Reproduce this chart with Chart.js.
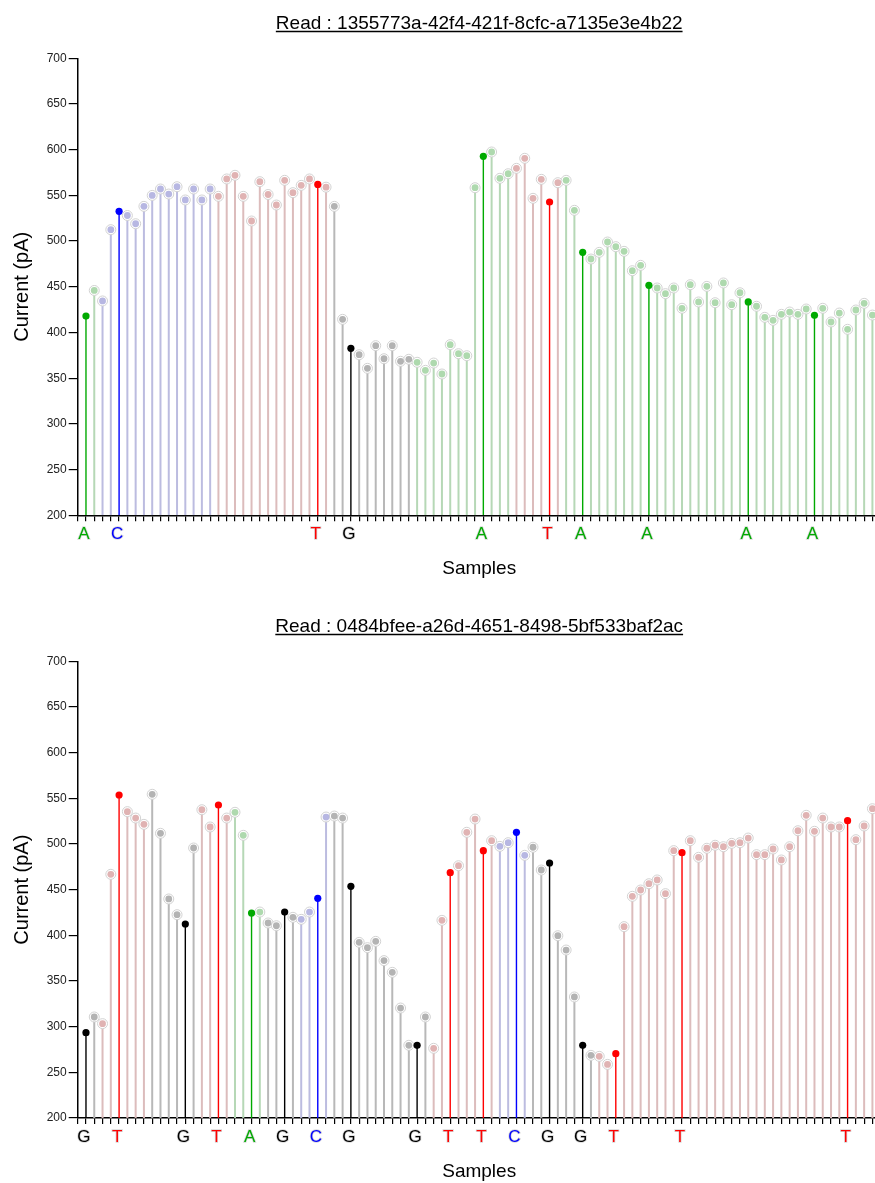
<!DOCTYPE html>
<html><head><meta charset="utf-8">
<script src="https://cdn.jsdelivr.net/npm/chart.js@4.4.1/dist/chart.umd.min.js"></script>
<style>
html,body{margin:0;padding:0;background:#fff;overflow:hidden;width:875px;height:1183px;}
canvas{display:block;}
</style></head><body>
<canvas id="c1" width="890" height="603"></canvas>
<canvas id="c2" width="890" height="580"></canvas>
<script>
// ---------- DATA ----------
const read1Title = "Read : 1355773a-42f4-421f-8cfc-a7135e3e4b22";
const read1Values = [
  418, 446, 434.5, 512.5, 532.6, 528, 519, 538, 550, 557,
  551.5, 559.5, 545, 557, 545, 557, 549, 568, 572, 549,
  522, 565, 551, 539.5, 566.5, 553, 561, 568, 562, 559,
  538, 414.4, 382.7, 375.7, 360.8, 385.6, 371.3, 385.6, 368.5, 370.7,
  367.4, 358.6, 366.6, 354.6, 386.7, 376.8, 374.6, 558.4, 592.8, 597.5,
  568.7, 573.7, 579.6, 590.6, 546.8, 567.6, 542.8, 563.9, 566.5, 533.7,
  487.7, 480.4, 487.7, 499, 493.9, 488.8, 467.6, 473.5, 451.6, 448.7,
  442.5, 448.7, 426.5, 452.3, 433.4, 450.5, 432.6, 454.2, 430.4, 443.5,
  433.4, 428.7, 416.6, 413.3, 419.9, 422.4, 419.9, 425.7, 418.8, 426.5,
  411.5, 421.3, 403.5, 424.6, 431.9, 419.1
];
const read1Bases = [
  "AACCCCCCCC", "CCCCCCTTTT", "TTTTTTTTTT", "GGGGGGGGGG", "AAAAAAAAAA",
  "AATTTTTTAA", "AAAAAAAAAA", "AAAAAAAAAA", "AAAAAAAAAA", "AAAAAA"
].join("").split("");
const read1Called = [1, 5, 29, 33, 49, 57, 61, 69, 81, 89];

const read2Title = "Read : 0484bfee-a26d-4651-8498-5bf533baf2ac";
const read2Values = [
  293.4, 310.6, 303.3, 466.8, 553.6, 535.4, 528.4, 521.5, 554.4, 511.7,
  439.8, 422.6, 412.4, 495.6, 537.5, 518.6, 542.7, 528.4, 534.7, 509.5,
  424.4, 425.5, 413.5, 410.5, 425.5, 419.7, 417.5, 425.5, 440.5, 529.5,
  530.6, 528.4, 453.6, 392.3, 386.5, 393.4, 372.3, 359.5, 320.4, 279.6,
  279.6, 310.6, 276.3, 416.4, 468.6, 476.2, 512.8, 527.3, 492.7, 503.6,
  497.4, 501.4, 512.8, 487.6, 496.4, 471.5, 479.2, 399.6, 383.9, 332.5,
  279.6, 268.6, 267.5, 258.7, 270.4, 409.5, 442.7, 449.6, 456.5, 460.6,
  445.6, 492.7, 490.5, 503.6, 485.4, 495.3, 498.6, 497, 500.7, 501.4,
  506.5, 488.3, 488.3, 494.5, 482.5, 497, 514.5, 531.4, 513.9, 528.4,
  518.6, 518.6, 525.5, 504.7, 519.7, 538.6
];
const read2Bases = [
  "GGTTTTTTGG", "GGGGTTTTAA", "AAGGGGCCCC", "GGGGGGGGGG", "GGTTTTTTTT",
  "CCCCGGGGGG", "GGTTTTTTTT", "TTTTTTTTTT", "TTTTTTTTTT", "TTTTTT"
].join("").split("");
const read2Called = [1, 5, 13, 17, 21, 25, 29, 33, 41, 45, 49, 53, 57, 61, 65, 73, 93];

const yTicks = [200, 250, 300, 350, 400, 450, 500, 550, 600, 650, 700];
const xAxisTitle = "Samples";
const yAxisTitle = "Current (pA)";

// ---------- STYLE ----------
const strongColor = {A: "#00aa00", C: "#0000ff", G: "#000000", T: "#ff0000"};
const fadedDot = {A: "#aed9ae", C: "#b7b7e2", G: "#b3b3b3", T: "#e0b3b3"};
const fadedStem = {A: "#b6d8b6", C: "#bcbce0", G: "#b8b8b8", T: "#dcbcbc"};
const FONT = "'Liberation Sans', Arial, Helvetica, sans-serif";

function makeChart(id, title, values, bases, called, canvasH, bottomPad) {
  const faded = [], strong = [];
  values.forEach((v, i) => {
    const pos = i + 1;
    const rec = {x: pos, y: v, b: bases[i]};
    if (called.includes(pos)) strong.push(rec); else faded.push(rec);
  });
  const stemData = arr => arr.map(r => ({x: r.x, y: [yTicks[0], r.y], b: r.b}));
  const labelAt = {};
  called.forEach(p => { labelAt[p] = bases[p - 1]; });

  const titlePlugin = {
    id: 'titles' + id,
    afterDraw(chart) {
      const ctx = chart.ctx, a = chart.chartArea;
      const cx = (a.left + a.right) / 2;
      ctx.save();
      ctx.fillStyle = '#000';
      ctx.font = "19px " + FONT;
      ctx.textAlign = 'center';
      ctx.textBaseline = 'alphabetic';
      ctx.fillText(title, cx, 28.5);
      const w = ctx.measureText(title).width;
      ctx.strokeStyle = '#000';
      ctx.lineWidth = 1.3;
      ctx.beginPath();
      ctx.moveTo(cx - w / 2, 31.5);
      ctx.lineTo(cx + w / 2, 31.5);
      ctx.stroke();
      ctx.font = "19px " + FONT;
      ctx.fillText(xAxisTitle, cx, 573.5);
      ctx.translate(28, (a.top + a.bottom) / 2);
      ctx.rotate(-Math.PI / 2);
      ctx.font = "20px " + FONT;
      ctx.fillText(yAxisTitle, 0, 0);
      ctx.restore();
    }
  };

  return new Chart(document.getElementById(id), {
    type: 'scatter',
    data: {
      datasets: [
        {
          type: 'bar', data: stemData(faded), order: 5, grouped: false,
          backgroundColor: c => fadedStem[c.raw ? c.raw.b : 'G'],
          maxBarThickness: 2, borderWidth: 0
        },
        {
          type: 'bar', data: stemData(strong), order: 4, grouped: false,
          backgroundColor: c => strongColor[c.raw ? c.raw.b : 'G'],
          maxBarThickness: 1.4, borderWidth: 0
        },
        {
          type: 'scatter', data: faded, order: 3,
          pointRadius: 5, pointBackgroundColor: '#ffffff',
          pointBorderColor: '#d2d2d2', pointBorderWidth: 1, pointHoverRadius: 5
        },
        {
          type: 'scatter', data: faded, order: 2,
          pointRadius: 3.4, pointBorderWidth: 0,
          pointBackgroundColor: c => fadedDot[c.raw ? c.raw.b : 'G']
        },
        {
          type: 'scatter', data: strong, order: 1,
          pointRadius: 3.6, pointBorderWidth: 0,
          pointBackgroundColor: c => strongColor[c.raw ? c.raw.b : 'G']
        }
      ]
    },
    options: {
      responsive: false,
      animation: false,
      events: [],
      layout: {padding: {left: 32.7, right: 9.3, top: 58.3, bottom: bottomPad}},
      plugins: {legend: {display: false}, tooltip: {enabled: false}, title: {display: false}},
      scales: {
        x: {
          type: 'linear', min: 0, max: 97, offset: false,
          afterFit(s) { s.height = 40; },
          border: {color: '#000', width: 1.5},
          grid: {drawOnChartArea: false, drawTicks: true, tickLength: 6, color: '#000', lineWidth: 1.2, offset: false},
          ticks: {
            stepSize: 1, autoSkip: false, maxRotation: 0, maxTicksLimit: 500,
            padding: 3, labelOffset: -2,
            font: {size: 17, family: FONT},
            color: c => strongColor[labelAt[c.tick.value]] || '#000',
            textStrokeColor: 'rgba(200,200,200,0.7)', textStrokeWidth: 1.5,
            callback: v => labelAt[v] || ''
          }
        },
        y: {
          type: 'linear', min: 200, max: 700,
          afterFit(s) { s.width = 45; },
          border: {color: '#000', width: 1.5},
          grid: {drawOnChartArea: false, drawTicks: true, tickLength: 9, color: '#000', lineWidth: 1.2},
          afterBuildTicks(s) { s.ticks = yTicks.map(v => ({value: v})); },
          ticks: {padding: 2, font: {size: 12, family: FONT}, color: '#222'}
        }
      }
    },
    plugins: [titlePlugin]
  });
}

makeChart('c1', read1Title, read1Values, read1Bases, read1Called, 603, 47.7);
makeChart('c2', read2Title, read2Values, read2Bases, read2Called, 580, 25);
</script>
</body></html>
